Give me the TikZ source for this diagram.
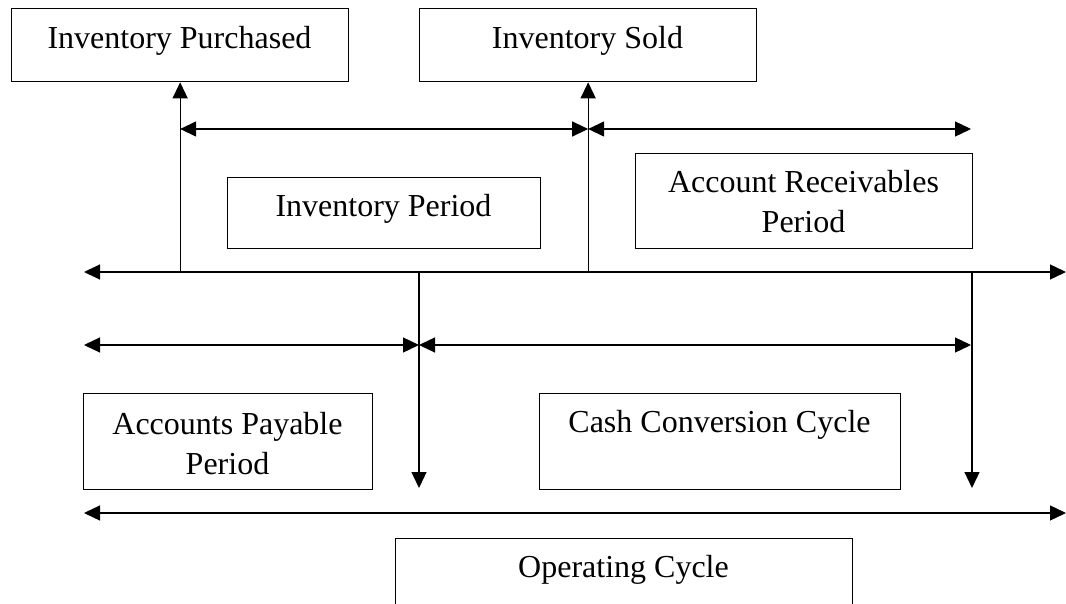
\documentclass[tikz,border=0pt]{standalone}
\usepackage{fontspec}
\setmainfont{Liberation Serif}
\usetikzlibrary{arrows.meta}
\begin{document}
\begin{tikzpicture}[x=1pt,y=-1pt,
  box/.style={draw, line width=1.3pt, inner sep=0pt, anchor=north west},
  lbl/.style={anchor=base, inner sep=0pt, font=\fontsize{32}{40}\selectfont, align=center},
  conn/.style={line width=1.3pt},
  tip/.style={-{Triangle[length=16pt,width=15pt]}},
  dtip/.style={{Triangle[length=16pt,width=15pt]}-{Triangle[length=16pt,width=15pt]}}]
\useasboundingbox (0,0) rectangle (1066,604);
\clip (0,0) rectangle (1066,604);
% boxes
\node[box, minimum width=337pt, minimum height=73pt] (ip) at (11,8) {};
\node[box, minimum width=337pt, minimum height=73pt] (is) at (419,8) {};
\node[box, minimum width=313pt, minimum height=71pt] (iper) at (227,177) {};
\node[box, minimum width=337pt, minimum height=95pt] (arp) at (635,153) {};
\node[box, minimum width=289pt, minimum height=96pt] (app) at (83,393) {};
\node[box, minimum width=361pt, minimum height=96pt] (ccc) at (539,393) {};
\node[box, minimum width=457pt, minimum height=100pt] (oc) at (395,538) {};
% labels
\node[lbl] (tip1) at (179.5,49) {Inventory Purchased};
\node[lbl] (tis) at (587.5,49) {Inventory Sold};
\node[lbl] (tiper) at (383.5,217) {Inventory Period};
\node[lbl] (tarp) at (803.5,233) {Account Receivables\\Period};
\node[lbl] (tapp) at (227.5,474) {Accounts Payable\\Period};
\node[lbl] (tccc) at (719.5,432) {Cash Conversion Cycle};
\node[lbl] (toc) at (623.5,577) {Operating Cycle};
% coordinates
\coordinate (mL) at (84,272);
\coordinate (mR) at (1066,272);
\coordinate (h1) at (0,129);
\coordinate (h1R) at (971,129);
\coordinate (d1) at (419,272);
\coordinate (d1e) at (419,488);
\coordinate (d2) at (972,272);
\coordinate (d2e) at (972,488);
\coordinate (h2L) at (84,345);
\coordinate (h2M) at (419,345);
\coordinate (h2R) at (971,345);
\coordinate (bL) at (84,513);
\coordinate (bR) at (1066,513);
% connectors
\draw[conn,dtip] (mL) -- (mR);
\draw[conn,tip] (ip.south |- mL) -- (ip.south);
\draw[conn,tip] (is.south |- mL) -- (is.south);
\draw[conn,dtip] (ip.south |- h1) -- (is.south |- h1);
\draw[conn,dtip] (is.south |- h1) -- (h1R);
\draw[conn,tip] (d1) -- (d1e);
\draw[conn,tip] (d2) -- (d2e);
\draw[conn,dtip] (h2L) -- (h2M);
\draw[conn,dtip] (h2M) -- (h2R);
\draw[conn,dtip] (bL) -- (bR);
\end{tikzpicture}
\end{document}
